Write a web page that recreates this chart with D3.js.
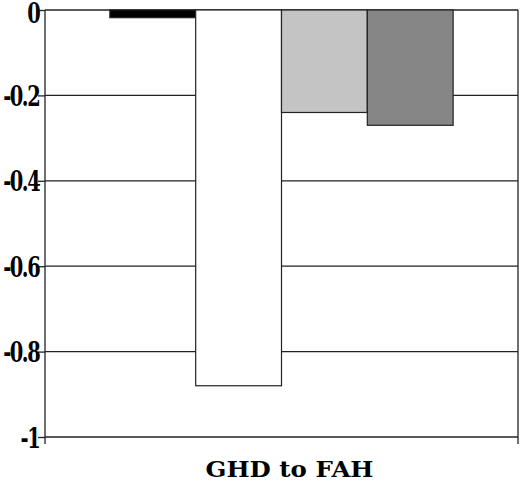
<!DOCTYPE html>
<html>
<head>
<meta charset="utf-8">
<script src="https://cdn.jsdelivr.net/npm/d3@7"></script>
<style>
  html, body { margin: 0; padding: 0; background: #fff; }
  svg { display: block; }
  .serif { font-family: "DejaVu Serif", serif; font-weight: bold; }
</style>
</head>
<body>
<svg id="chart" width="520" height="482"></svg>
<script>
const categories = ["GHD to FAH"];
const seriesNames = ["Series 1", "Series 2", "Series 3", "Series 4"];
const seriesValues = [-0.018, -0.88, -0.24, -0.27];
const seriesColors = ["#000000", "#ffffff", "#c4c4c4", "#868686"];
const yTicks = [0, -0.2, -0.4, -0.6, -0.8, -1];
const yTickLabels = ["0", "-0.2", "-0.4", "-0.6", "-0.8", "-1"];

const svg = d3.select("#chart");
const plotLeft = 45, plotRight = 518, plotTop = 10, plotBottom = 437;

const y = d3.scaleLinear().domain([0, -1]).range([plotTop, plotBottom]);
const x0 = d3.scaleBand().domain(categories).range([plotLeft, plotRight]).paddingInner(0).paddingOuter(0.189);
const x1 = d3.scaleBand().domain(seriesNames).range([0, x0.bandwidth()]).padding(0);

const ink = "#222";

// gridlines
svg.append("g").selectAll("line").data(yTicks).join("line")
  .attr("x1", plotLeft).attr("x2", plotRight)
  .attr("y1", d => y(d)).attr("y2", d => y(d))
  .attr("stroke", ink).attr("stroke-width", 1.3);

// bars
const rows = categories.map(c => seriesNames.map((s, i) => ({cat: c, s, v: seriesValues[i], color: seriesColors[i]})));
svg.append("g").selectAll("g").data(rows).join("g")
  .attr("transform", (d, i) => `translate(${x0(categories[i])},0)`)
  .selectAll("rect").data(d => d).join("rect")
  .attr("x", d => x1(d.s))
  .attr("y", d => y(0))
  .attr("width", x1.bandwidth())
  .attr("height", d => y(d.v) - y(0))
  .attr("fill", d => d.color)
  .attr("stroke", ink).attr("stroke-width", 1.2);

// y axis
const yAxis = d3.axisLeft(y).tickValues(yTicks).tickSize(7).tickSizeOuter(0)
  .tickFormat((d, i) => yTickLabels[i]);
const gy = svg.append("g").attr("transform", `translate(${plotLeft},0)`).call(yAxis);
gy.attr("font-family", null).attr("font-size", null);
gy.select(".domain").remove();
gy.selectAll(".tick line").attr("stroke", ink).attr("stroke-width", 1.3);
gy.selectAll(".tick text")
  .attr("class", "serif")
  .attr("x", -8)
  .attr("dy", (d, i) => i === 0 ? "0.46em" : "0.37em")
  .attr("fill", "#000")
  .attr("font-size", 27)
  .attr("letter-spacing", -2)
  .attr("transform", "scale(0.72,1)");

// left axis line and right border (extend slightly below baseline as ticks)
svg.append("line").attr("x1", plotLeft).attr("x2", plotLeft).attr("y1", y(0)).attr("y2", y(-1) + 7)
  .attr("stroke", ink).attr("stroke-width", 1.3);
svg.append("line").attr("x1", plotRight).attr("x2", plotRight).attr("y1", y(0)).attr("y2", y(-1) + 7)
  .attr("stroke", ink).attr("stroke-width", 1.3);

// category label
svg.append("g").selectAll("text").data(categories).join("text")
  .attr("class", "serif")
  .attr("x", d => x0(d) + x0.bandwidth() / 2 + 8)
  .attr("y", 477)
  .attr("text-anchor", "middle")
  .attr("fill", "#000")
  .attr("font-size", 23)
  .attr("textLength", 168)
  .attr("lengthAdjust", "spacingAndGlyphs")
  .text(d => d);
</script>
</body>
</html>
